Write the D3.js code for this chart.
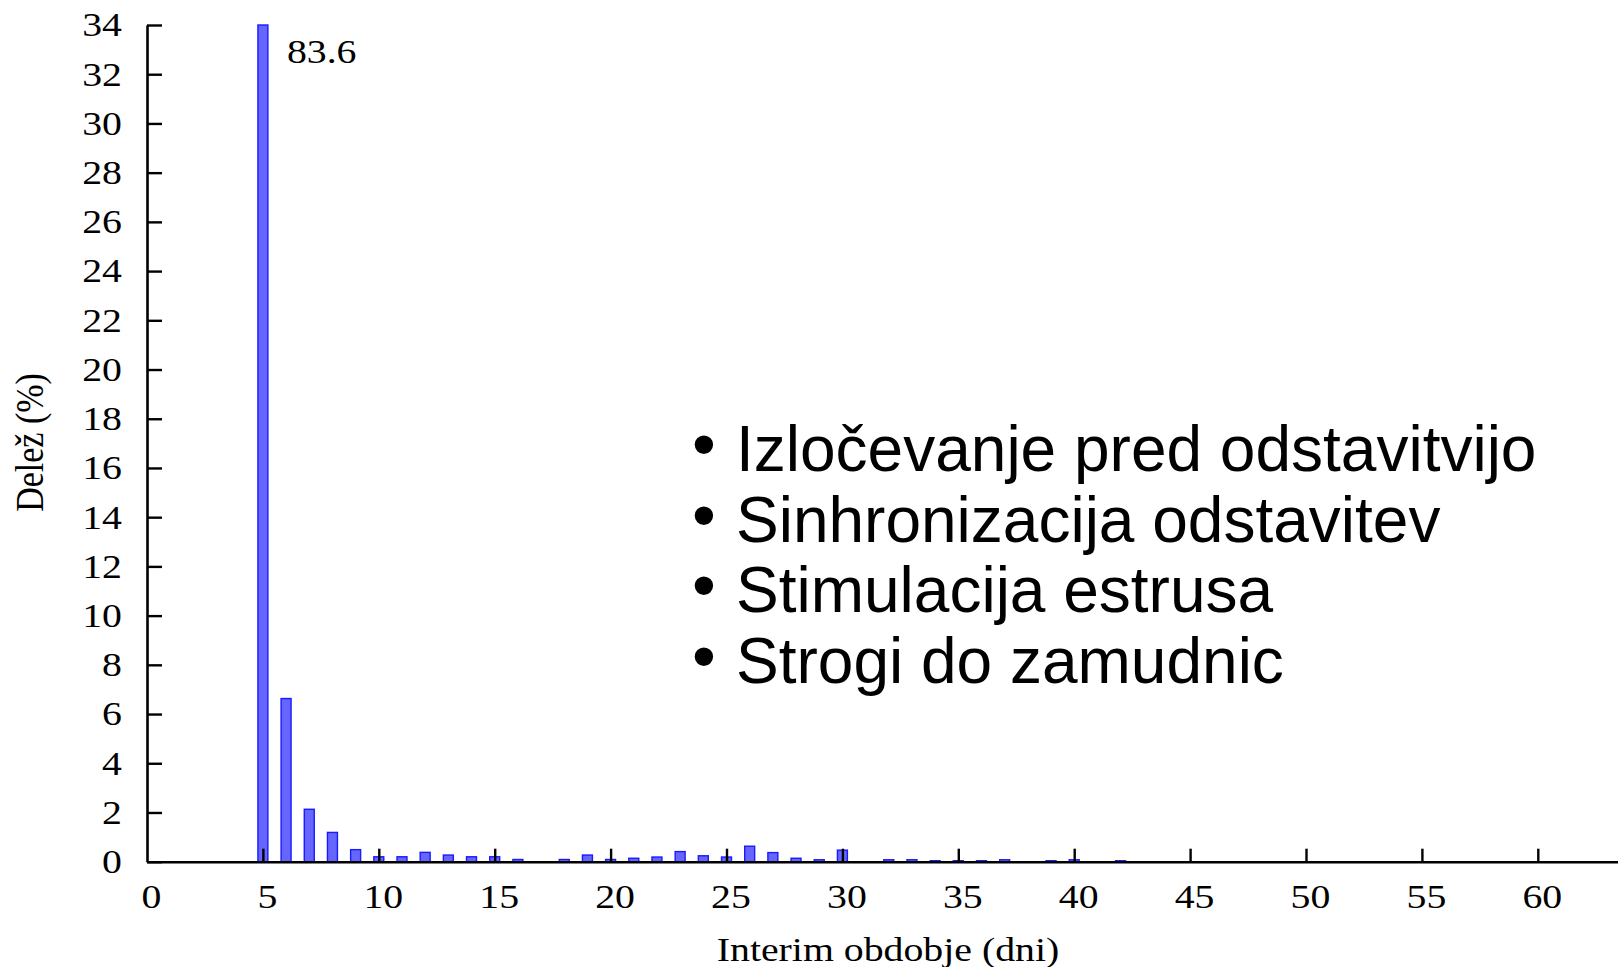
<!DOCTYPE html>
<html>
<head>
<meta charset="utf-8">
<script src="https://cdn.jsdelivr.net/npm/d3@7"></script>
<style>
  html, body { margin: 0; padding: 0; background: #fff; }
  svg { display: block; }
  .serif { font-family: "Liberation Serif", "Times New Roman", serif; }
  .sans { font-family: "Liberation Sans", Arial, sans-serif; }
</style>
</head>
<body>
<svg id="chart" width="1618" height="967"></svg>
<script>
// ---- data ----
const days = [5, 6, 7, 8, 9, 10, 11, 12, 13, 14, 15, 16, 17, 18, 19, 20, 21, 22, 23,
              24, 25, 26, 27, 28, 29, 30, 31, 32, 33, 34, 35, 36, 37, 38, 39, 40, 41, 42];
const share = [83.6, 6.63, 2.13, 1.19, 0.49, 0.2, 0.2, 0.38, 0.27, 0.2, 0.2, 0.09, 0, 0.09, 0.27, 0.09,
               0.14, 0.19, 0.41, 0.24, 0.19, 0.63, 0.37, 0.14, 0.08, 0.47, 0, 0.08, 0.08, 0.04,
               0.04, 0.04, 0.08, 0, 0.04, 0.08, 0, 0.04];
const xTicks = [0, 5, 10, 15, 20, 25, 30, 35, 40, 45, 50, 55, 60];
const yTicks = [0, 2, 4, 6, 8, 10, 12, 14, 16, 18, 20, 22, 24, 26, 28, 30, 32, 34];
const xTitle = "Interim obdobje (dni)";
const yTitle = "Delež (%)";
const bullets = ["Izločevanje pred odstavitvijo", "Sinhronizacija odstavitev",
                 "Stimulacija estrusa", "Strogi do zamudnic"];

// ---- layout ----
const svg = d3.select("#chart");
const x0 = 147, xPerUnit = 23.18;
const yMax = 34;
const x = d3.scaleLinear().domain([0, 65]).range([x0, x0 + 65 * xPerUnit]);
const y = d3.scaleLinear().domain([0, yMax]).range([861.7, 25]);
const stretch = 1.17;
const serifSize = 34;

// bars
const barW = x(0.43) - x(0);
const data = days.map((d, i) => ({ day: d, v: share[i] })).filter(d => d.v > 0);
svg.append("g").selectAll("rect").data(data).join("rect")
  .attr("x", d => x(d.day) - barW / 2)
  .attr("y", d => y(Math.min(d.v, yMax)))
  .attr("width", barW)
  .attr("height", d => y(0) - y(Math.min(d.v, yMax)))
  .attr("fill", "#6666ff")
  .attr("stroke", "#1a1aff")
  .attr("stroke-width", 1.4);

// label for clipped bar
const clipped = data.filter(d => d.v > yMax);
svg.append("g").selectAll("text").data(clipped).join("text")
  .attr("class", "serif")
  .attr("font-size", serifSize)
  .attr("transform", d => `translate(${x(d.day) + 24},62.5) scale(${stretch},1)`)
  .text(d => d.v.toFixed(1));

// y axis
const yAxis = svg.append("g").attr("transform", `translate(${x0},0)`)
  .call(d3.axisLeft(y).tickValues(yTicks).tickSizeInner(-15).tickSizeOuter(0).tickPadding(25));
// x axis
const xAxis = svg.append("g").attr("transform", `translate(0,${y(0)})`)
  .call(d3.axisBottom(x).tickValues(xTicks).tickSizeInner(-13).tickSizeOuter(0).tickPadding(22));

[yAxis, xAxis].forEach(g => {
  g.selectAll("path.domain").attr("stroke", "#000").attr("stroke-width", 2.6);
  g.selectAll(".tick line").attr("stroke", "#000").attr("stroke-width", 2.4);
  g.selectAll(".tick text").attr("fill", "#000")
    .attr("font-family", "Liberation Serif, Times New Roman, serif")
    .attr("font-size", serifSize);
});
// horizontal stretch of the serif labels
yAxis.selectAll(".tick text").attr("x", 0).attr("transform", `translate(-25,0) scale(${stretch},1)`);
xAxis.selectAll(".tick text").attr("transform", `translate(4,0) scale(${stretch},1)`);
xAxis.selectAll(".tick").filter(d => d === 0).select("line").remove();

// axis titles
svg.append("text").attr("class", "serif").attr("font-size", serifSize)
  .attr("text-anchor", "middle")
  .attr("transform", `translate(888,961) scale(${stretch},1)`)
  .text(xTitle);
svg.append("text").attr("class", "serif").attr("font-size", serifSize)
  .attr("text-anchor", "middle")
  .attr("transform", `translate(43,442.5) rotate(-90) scale(1,${stretch})`)
  .text(yTitle);

// bullet list (bullet glyph and item in one text element per line)
const lineStep = 70.8, firstBase = 470.7;
const bl = svg.append("g").attr("class", "sans");
const lines = bl.selectAll("text.item").data(bullets).join("text")
  .attr("class", "item")
  .attr("y", (d, i) => firstBase + i * lineStep)
  .attr("font-size", 64).attr("fill", "#000");
lines.append("tspan").attr("x", 692).attr("dy", -4).attr("font-size", 68).text("•");
lines.append("tspan").attr("x", 736).attr("dy", 4).text(d => d);
</script>
</body>
</html>
